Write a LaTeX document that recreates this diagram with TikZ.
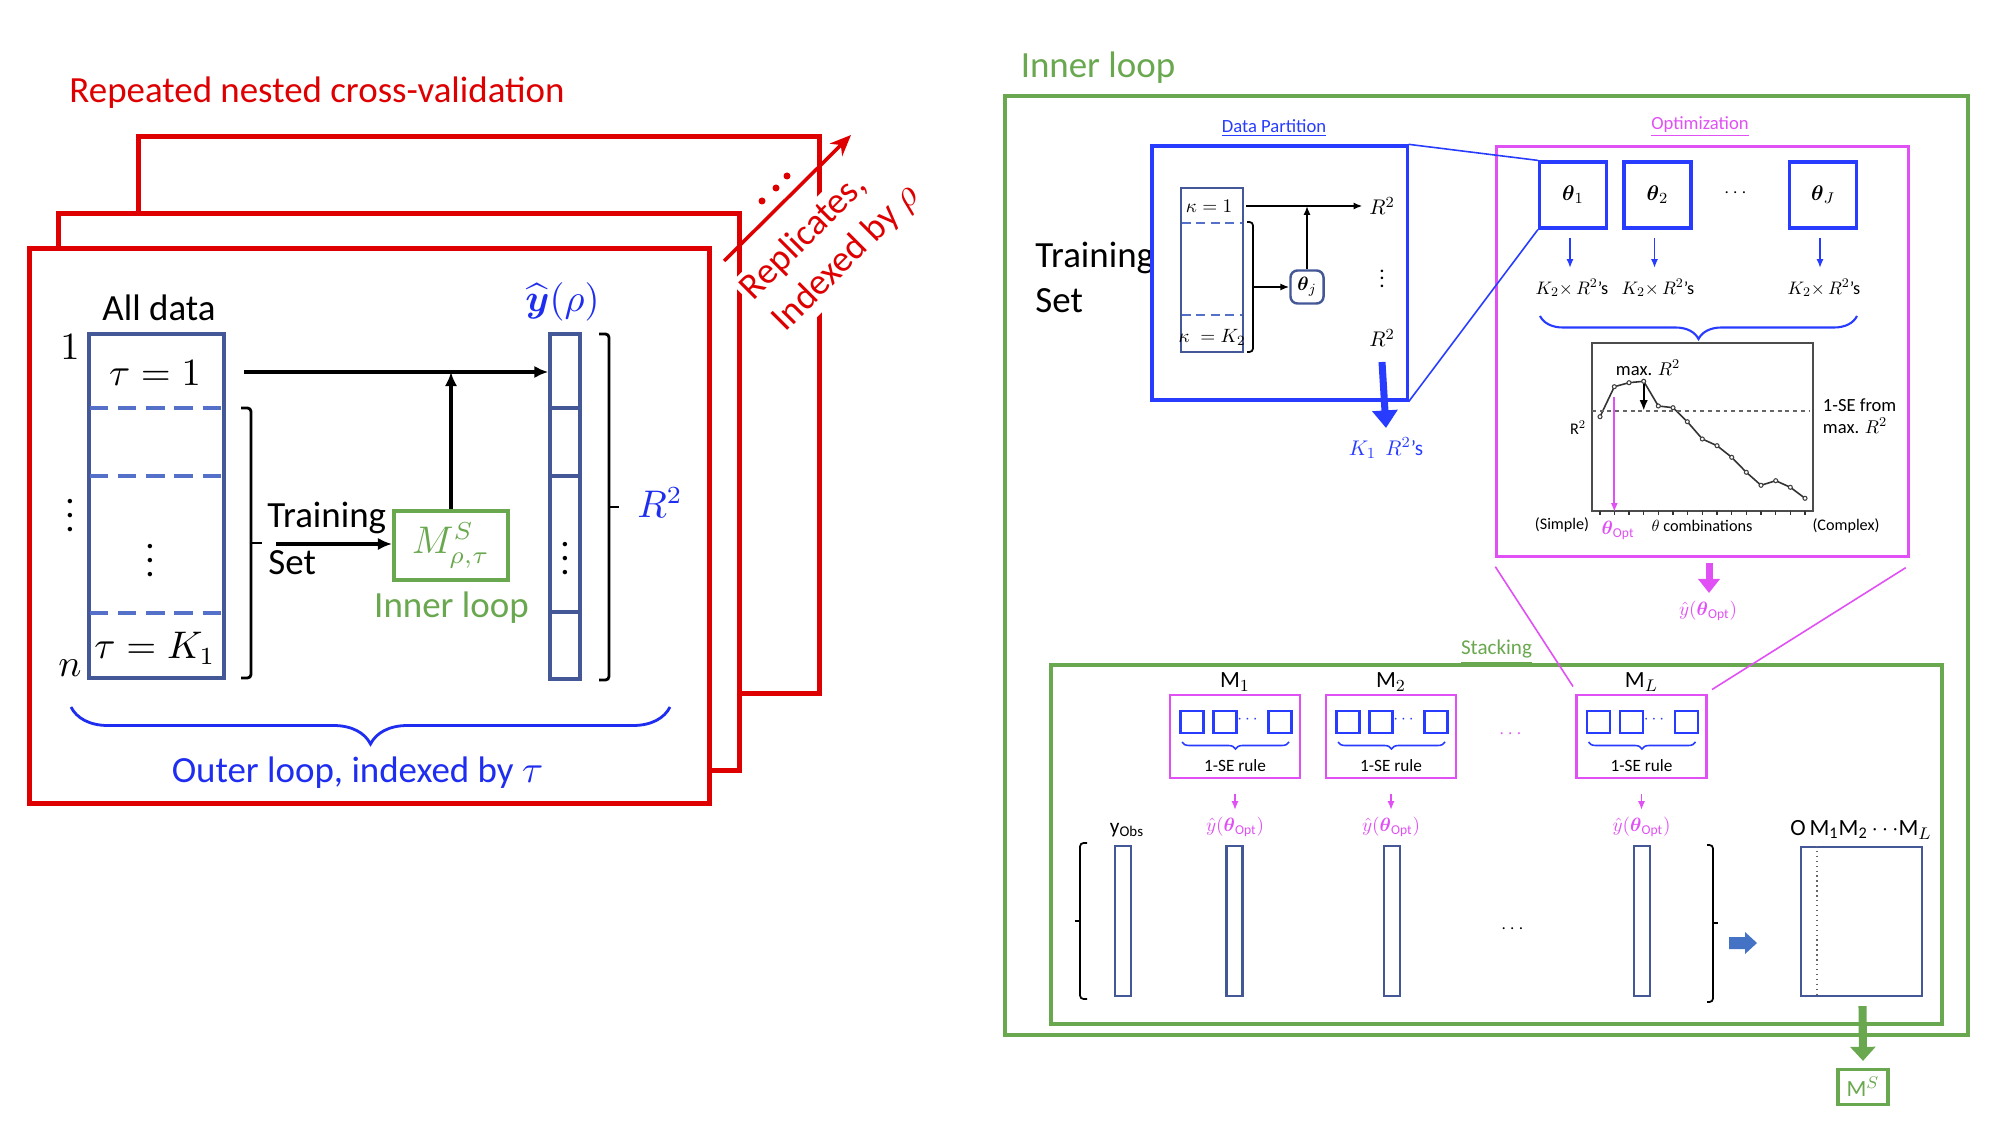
\documentclass[tikz,border=0pt]{standalone}
\usepackage{amsmath}
\usepackage{fontspec}
\setmainfont{Carlito}
\usetikzlibrary{positioning, arrows.meta, calc, decorations.pathreplacing}

\definecolor{repred}{RGB}{222,0,0}
\definecolor{colblue}{RGB}{68,87,150}
\definecolor{dashblue}{RGB}{84,112,200}
\definecolor{txtblue}{RGB}{30,45,240}
\definecolor{boxblue}{RGB}{40,60,255}
\definecolor{loopgreen}{RGB}{106,168,79}
\definecolor{optmag}{RGB}{225,80,245}
\definecolor{fatblue}{RGB}{68,114,196}

\begin{document}
\begin{tikzpicture}[
    x=0.01cm, y=-0.01cm,
    >={Latex[length=4pt,width=3.5pt]},
    bigtxt/.style={font=\fontsize{10.5}{12.8}\selectfont},
    smalltxt/.style={font=\fontsize{5.3}{6.4}\selectfont},
    shrunk/.style={font=\fontsize{11}{13.2}\selectfont, scale=#1},
    arr/.style={->, line width=0.9pt},
    smallarr/.style={-{Latex[length=2.5pt,width=2pt]}, line width=0.5pt},
    redframe/.style={
        draw=repred,
        fill=white,
        line width=1.4pt,
        minimum width=6.8cm,
        minimum height=5.56cm,
        inner sep=0pt
    },
    colbox/.style={draw=colblue, line width=0.95pt, inner sep=0pt},
    dashsep/.style={draw=dashblue, line width=1.05pt, dash pattern=on 5.2pt off 2.8pt},
    brk/.style={line width=0.8pt, rounded corners=1pt},
    bluebrace/.style={
        decorate,
        decoration={brace, mirror, amplitude=#1},
        draw=txtblue,
        line width=0.8pt
    },
    greenframe/.style={draw=loopgreen, line width=1.1pt, inner sep=0pt},
    thbox/.style={
        draw=boxblue,
        line width=0.9pt,
        minimum width=0.67cm,
        minimum height=0.66cm,
        inner sep=0pt
    },
    mbox/.style={draw=optmag, line width=0.8pt, minimum width=1.3cm, minimum height=0.83cm, inner sep=0pt},
    sqbox/.style={draw=boxblue, line width=0.6pt, minimum width=0.23cm, minimum height=0.22cm, inner sep=0pt},
    stcol/.style={draw=colblue, line width=0.6pt, inner sep=0pt},
    magarr/.style={draw=optmag, -{Latex[length=2.5pt,width=2pt]}, line width=0.5pt},
    zoomline/.style={line width=0.45pt},
    plotdot/.style={circle, draw=black!75, fill=white, line width=0.3pt, inner sep=0pt, minimum size=0.04cm}
]

    \useasboundingbox (0,0) rectangle (2000,1125);
    \fill[white] (0,0) rectangle (2000,1125);

    % --- Left: repeated nested cross-validation ---
    \node[bigtxt, text=repred] (reptitle) at (317,93) {Repeated nested cross-validation};
    \node[redframe] (rep3) at (479,415) {};
    \node[redframe] (rep2) at (399,492) {};
    \node[redframe, minimum height=5.54cm] (rep1) at (369.5,526) {};

    \node[bigtxt, text=repred, fill=white, rotate=45, align=left, inner sep=1pt] (reptxt) at (831,243) {Replicates,\\Indexed by $\rho$};
    \coordinate (repfrom) at (724,261);
    \coordinate (repto) at (851,135);
    \draw[draw=repred, line width=1pt, -{Stealth[length=6pt,width=5pt]}] (repfrom) -- (repto);
    \foreach \dx/\dy [count=\i] in {762/201, 776/188, 787/176}
        \node[circle, fill=repred, inner sep=0pt, minimum size=0.07cm] (repdot\i) at (\dx,\dy) {};

    % All data column
    \node[bigtxt] (alldata) at (159,308) {All data};
    \node[colbox, minimum width=1.35cm, minimum height=3.44cm] (datacol) at (156.5,506) {};
    \foreach \yy in {408,476,613}
        \draw[dashsep] (90,\yy) -- (223,\yy);
    \node[bigtxt] (tau1) at (155,373) {$\tau = 1$};
    \node[bigtxt] (taudots) at (150,550) {$\vdots$};
    \node[bigtxt] (tauK) at (155,648) {$\tau = K_1$};
    \node[bigtxt] (row1) at (70,347) {$1$};
    \node[bigtxt] (rowdots) at (70,505) {$\vdots$};
    \node[bigtxt] (rown) at (70,668) {$n$};

    % Training set bracket
    \draw[brk] (241,408) -- (251,408) -- (251,678) -- (241,678);
    \draw[brk] (251,543) -- (262,543);
    \node[bigtxt, anchor=west] (trlab) at (255,518) {Training};
    \node[bigtxt, anchor=west] (setlab) at (256,563) {Set};

    % Inner loop model
    \node[draw=loopgreen, line width=1.1pt, minimum width=1.14cm, minimum height=0.69cm, inner sep=0pt,
          bigtxt, text=loopgreen] (msbox) at (451,545.5) {$M^{S}_{\rho,\tau}$};
    \node[bigtxt, text=loopgreen] (innerlab) at (451.5,608) {Inner loop};
    \coordinate (trstart) at (276,544);
    \draw[arr] (trstart) -- (trstart -| msbox.west);

    % Predictions
    \node[bigtxt, text=txtblue] (yhat) at (562.5,302) {$\widehat{\boldsymbol{y}}(\rho)$};
    \node[colbox, minimum width=0.30cm, minimum height=3.45cm] (predcol) at (565,506.5) {};
    \foreach \yy in {408,476,612}
        \draw[colblue, line width=0.95pt] (550,\yy) -- (580,\yy);
    \node[bigtxt] (preddots) at (565,548) {$\vdots$};
    \coordinate (topstart) at (244,372);
    \draw[arr] (topstart) -- (topstart -| predcol.west);
    \draw[arr] (msbox.north) -- (msbox.north |- topstart);

    \draw[brk] (599,334) -- (609,334) -- (609,680) -- (599,680);
    \draw[brk] (609,507) -- (619,507);
    \node[bigtxt, text=txtblue] (rsq) at (660,503) {$R^2$};

    \draw[bluebrace=0.37cm] (71,707) -- (670,707);
    \node[bigtxt, text=txtblue] (outer) at (357.5,773) {Outer loop, indexed by $\tau$};

    % --- Right: inner loop ---
    \node[bigtxt, text=loopgreen] (innertitle) at (1098,68) {Inner loop};
    \node[greenframe, minimum width=9.63cm, minimum height=9.39cm] (innerframe) at (1486.5,565.5) {};
    \node[bigtxt, anchor=west, align=left] (trset) at (1023,277) {Training\\Set};

    % Data partition
    \node[smalltxt, text=boxblue] (dplab) at (1274,128) {\underline{Data Partition}};
    \node[draw=boxblue, line width=0.9pt, minimum width=2.55cm, minimum height=2.54cm] (dpbox) at (1279.5,273) {};
    \node[colbox, line width=0.7pt, minimum width=0.62cm, minimum height=1.64cm] (kcol) at (1212,270) {};
    \foreach \yy in {223,315}
        \draw[draw=dashblue, line width=0.5pt, dash pattern=on 2.5pt off 1.6pt] (1182,\yy) -- (1242,\yy);
    \node[shrunk=0.5] (kap1) at (1209,206) {$\kappa = 1$};
    \node[shrunk=0.5] (kapK) at (1212,337) {$\kappa\;= K_2$};
    \draw[brk, line width=0.5pt] (1247,222) -- (1253,222) -- (1253,352) -- (1247,352);
    \node[draw=colblue, rounded corners=2pt, minimum size=0.33cm, inner sep=0pt, line width=0.7pt] (thj) at (1307,287) {};
    \node[shrunk=0.5] (thjlab) at (thj) {$\boldsymbol{\theta}_j$};
    \coordinate (kstart) at (1253,287);
    \draw[smallarr] (kstart) -- (thj.west);
    \node[shrunk=0.55] (rtop) at (1382,206) {$R^2$};
    \coordinate (ktop) at (1246,206);
    \draw[smallarr] (ktop) -- (rtop.west);
    \draw[smallarr] (thj.north) -- (thj.north |- ktop);
    \node[shrunk=0.55] (rdots) at (1382,273) {$\vdots$};
    \node[shrunk=0.55] (rbot) at (1382,338) {$R^2$};
    \node[shrunk=0.55, text=boxblue] (k1rs) at (1386,448) {$K_1\;\, R^{2}$'s};
    \draw[draw=boxblue, line width=2pt, -{Triangle[length=5pt,width=7pt]}] ($(rbot)+(0,24)$) -- ($(k1rs)+(0,-20)$);

    % Optimization
    \node[smalltxt, text=optmag] (optlab) at (1700,127) {\underline{Optimization}};
    \node[draw=optmag, line width=0.9pt, minimum width=4.11cm, minimum height=4.09cm] (optbox) at (1702.5,351.5) {};
    \node[thbox] (th1) at (1573,195) {};
    \node[thbox] (th2) at (1657.5,195) {};
    \node[thbox] (thJ) at (1823,195) {};
    \node[shrunk=0.55] (th1lab) at (th1) {$\boldsymbol{\theta}_1$};
    \node[shrunk=0.55] (th2lab) at (th2) {$\boldsymbol{\theta}_2$};
    \node[shrunk=0.55] (thJlab) at (thJ) {$\boldsymbol{\theta}_J$};
    \node[shrunk=0.5] (thdots) at (1737,193) {$\cdots$};
    \draw[zoomline, draw=boxblue] (dpbox.north east) -- (th1.north west);
    \draw[zoomline, draw=boxblue] (dpbox.south east) -- (th1.south west);
    \foreach \t/\xx in {th1/1572, th2/1658, thJ/1824} {
        \node[shrunk=0.47] (kr\t) at (\xx,288) {$K_2{\times}\, R^{2}$'s};
        \draw[smallarr, draw=boxblue] ($(\t.south)+(-3,8)$) -- ($(\t.south |- kr\t)+(-3,-20)$);
    }
    \draw[bluebrace=0.23cm, line width=0.6pt, draw=boxblue] (1540,316) -- (1857,316);

    % 1-SE plot
    \node[draw=black!70, line width=0.5pt, minimum width=2.21cm, minimum height=1.68cm] (plotbox) at (1702.5,427) {};
    \draw[black!80, line width=0.45pt] plot coordinates {(1600,416.7) (1614.3,386.7) (1629,382.7) (1643.7,381.3) (1658.3,406)
        (1673,407.7) (1687.3,421.7) (1702.3,439) (1717,445.7) (1731.7,457.3) (1746.3,472.3) (1761,485.3)
        (1775.7,480.7) (1790.3,487.3) (1805,498.3)};
    \draw[black!60, line width=0.5pt, dash pattern=on 1.1pt off 1.1pt] (1592,410.7) -- (1810,410.7);
    \foreach \px/\py [count=\i] in {1600/416.7, 1614.3/386.7, 1629/382.7, 1643.7/381.3, 1658.3/406,
        1673/407.7, 1687.3/421.7, 1702.3/439, 1717/445.7, 1731.7/457.3, 1746.3/472.3, 1761/485.3,
        1775.7/480.7, 1790.3/487.3, 1805/498.3} {
        \node[plotdot] (p\i) at (\px,\py) {};
        \draw[black!80, line width=0.4pt] (\px,511) -- (\px,515);
    }
    \coordinate (sel) at (1643.7,410.7);
    \draw[line width=0.6pt, -{Latex[length=3pt,width=2.4pt]}] (p4) -- (sel);
    \draw[magarr] ($(p2)+(0,10)$) -- (p2 |- plotbox.south);
    \node[font=\fontsize{4.6}{5.5}\selectfont] (simple) at (1562,525) {(Simple)};
    \node[shrunk=0.42] (thcomb) at (1702,526) {$\theta$ combinations};
    \node[font=\fontsize{4.6}{5.5}\selectfont] (complex) at (1846,526) {(Complex)};
    \node[shrunk=0.5, text=optmag] (thopt) at (1618,530) {$\boldsymbol{\theta}_{\mathrm{Opt}}$};
    \node[shrunk=0.48] (maxr) at (1648,368) {max. $R^2$};
    \node[shrunk=0.42] (plotr) at (1578,428) {R$^2$};
    \node[shrunk=0.48, anchor=west, align=left] (sefrom) at (1817,416) {1-SE from\\max. $R^2$};

    \node[shrunk=0.5, text=optmag] (yopt) at (1708,611) {$\hat{y}(\boldsymbol{\theta}_{\mathrm{Opt}})$};
    \draw[draw=optmag, line width=2pt, -{Triangle[length=4pt,width=6pt]}] ($(optbox.south)+(6.5,5)$) -- ($(yopt)+(1,-18)$);

    % Stacking
    \node[font=\fontsize{6}{7}\selectfont, text=loopgreen] (stacklab) at (1496.5,652) {\underline{Stacking}};
    \node[greenframe, minimum width=8.91cm, minimum height=3.59cm] (stackframe) at (1496.5,844.5) {};
    \foreach \m/\xx/\ml in {m1/1235/1, m2/1391/2, mL/1641.5/L} {
        \node[mbox] (\m) at (\xx,736.5) {};
        \node[shrunk=0.6] (\m lab) at (\xx,682) {$\mathrm{M}_{\ml}$};
        \node[sqbox] (\m a) at ($(\m.center)+(-43,-14.5)$) {};
        \node[sqbox] (\m b) at ($(\m.center)+(-10,-14.5)$) {};
        \node[shrunk=0.45, text=boxblue, inner sep=0pt] (\m dots) at ($(\m.center)+(14,-16.5)$) {$\cdots$};
        \node[sqbox] (\m c) at ($(\m.center)+(45,-14.5)$) {};
        \draw[bluebrace=0.07cm, line width=0.45pt, draw=boxblue] ($(\m.center)+(-53,5.5)$) -- ($(\m.center)+(54,5.5)$);
        \node[font=\fontsize{4.9}{6}\selectfont] (\m rule) at ($(\m.center)+(0,29.5)$) {1-SE rule};
        \node[shrunk=0.5, text=optmag] (\m y) at (\xx,827) {$\hat{y}(\boldsymbol{\theta}_{\mathrm{Opt}})$};
        \draw[magarr] ($(\m.south)+(0,14.5)$) -- ($(\m y)+(0,-17)$);
    }
    \node[shrunk=0.5, text=optmag] (mdots) at (1512,734) {$\cdots$};
    \draw[zoomline, draw=optmag] ($(optbox.south west)+(0,9)$) -- ($(mL.north west)+(-2,-7)$);
    \draw[zoomline, draw=optmag] ($(optbox.south east)+(-4,10)$) -- ($(mL.north east)+(4,-4)$);

    \node[shrunk=0.55] (yobslab) at (1127,830) {$\mathrm{y}_{\mathrm{Obs}}$};
    \foreach \c/\xx in {cobs/1123, c1/1234.5, c2/1392, cL/1642}
        \node[stcol, minimum width=0.16cm, minimum height=1.50cm] (\c) at (\xx,921) {};
    \node[shrunk=0.5] (cdots) at (1514,929) {$\cdots$};
    \draw[brk, line width=0.5pt] (1087,843) -- (1080,843) -- (1080,999) -- (1087,999);
    \draw[brk, line width=0.5pt] (1080,921) -- (1075,921);
    \draw[brk, line width=0.5pt] (1707,845) -- (1713,845) -- (1713,1002) -- (1707,1002);
    \draw[brk, line width=0.5pt] (1713,923) -- (1718,923);
    \coordinate (blk) at (1729,943);
    \fill[fatblue] (blk) ++(0,-6) -- ++(16,0) -- ++(0,-5) -- ++(12,11) -- ++(-12,11) -- ++(0,-5) -- ++(-16,0) -- cycle;

    \node[stcol, minimum width=1.21cm, minimum height=1.49cm] (stmat) at (1861.5,921.5) {};
    \draw[black!60, line width=0.4pt, densely dotted] (stmat.north west) ++(17,0) -- ++(0,149);
    \node[shrunk=0.6] (matlab) at (1861,830) {$\mathrm{O\,M_1M_2\,{\cdots}M}_L$};

    \node[draw=loopgreen, line width=0.9pt, minimum width=0.50cm, minimum height=0.35cm, inner sep=0pt] (msfinal) at (1863,1087) {};
    \node[shrunk=0.6, text=loopgreen] (msfinallab) at (msfinal) {$\mathrm{M}^S$};
    \draw[draw=loopgreen, line width=2.3pt, -{Triangle[length=4pt,width=7pt]}] ($(stmat.south)+(1,9)$) -- ($(msfinal.north)+(0,-7)$);

\end{tikzpicture}
\end{document}
